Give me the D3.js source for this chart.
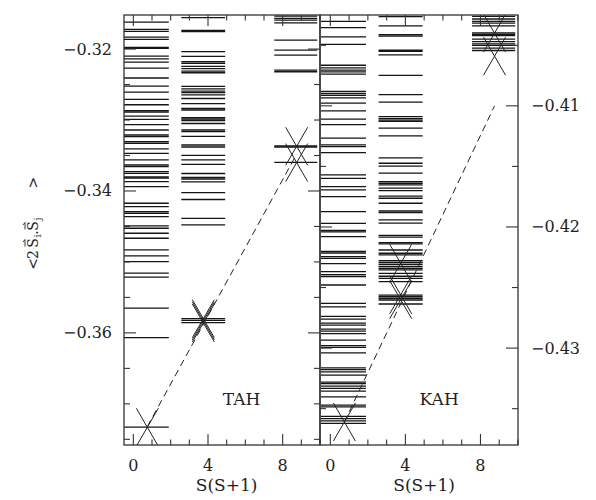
<!DOCTYPE html>
<html>
<head>
<meta charset="utf-8">
<script src="https://cdn.jsdelivr.net/npm/d3@7"></script>
<style>
  body { margin: 0; background: #fff; }
  text { font-family: "DejaVu Serif", serif; fill: #222; }
</style>
</head>
<body>
<svg id="chart" width="596" height="500"></svg>
<script>
// energy levels <2 Si.Sj>, one list per S(S+1) column
const tahCol0 = [-0.31620, -0.31723, -0.31751, -0.31831, -0.31863, -0.31976, -0.31990, -0.32099, -0.32137,
  -0.32183, -0.32268, -0.32408, -0.32521, -0.32606, -0.32708, -0.32785, -0.32869, -0.32887, -0.32944, -0.32990,
  -0.33066, -0.33141, -0.33211, -0.33235, -0.33306, -0.33328, -0.33408, -0.33469, -0.33563, -0.33634, -0.33658,
  -0.33728, -0.33751, -0.33803, -0.33817, -0.33869, -0.33939, -0.34173, -0.34221, -0.34292, -0.34314, -0.34362,
  -0.34493, -0.34525, -0.34596, -0.34666, -0.34831, -0.34915, -0.34996, -0.35159, -0.35215, -0.35652, -0.36066,
  -0.37328];
const tahCol1 = [-0.31556, -0.31737, -0.31754, -0.32035, -0.32103, -0.32176, -0.32200, -0.32244, -0.32277,
  -0.32310, -0.32334, -0.32525, -0.32561, -0.32592, -0.32615, -0.32645, -0.32697, -0.32768, -0.32838, -0.32859,
  -0.32965, -0.32986, -0.33007, -0.33049, -0.33141, -0.33165, -0.33230, -0.33352, -0.33380, -0.33497, -0.33563,
  -0.33624, -0.33754, -0.33810, -0.33831, -0.33873, -0.34024, -0.34120, -0.34385, -0.34479, -0.35800, -0.35825,
  -0.35855];
const tahCol2 = [-0.31535, -0.31568, -0.31592, -0.31630, -0.31873, -0.32014, -0.32085, -0.32296, -0.32320,
  -0.33366, -0.33380, -0.33596];

const kahCol0 = [-0.40302, -0.40355, -0.40430, -0.40492, -0.40665, -0.40686, -0.40705, -0.40719, -0.40738,
  -0.40880, -0.40898, -0.40913, -0.40934, -0.40978, -0.41041, -0.41110, -0.41155, -0.41267, -0.41322, -0.41336,
  -0.41386, -0.41570, -0.41598, -0.41667, -0.41694, -0.41750, -0.41874, -0.41970, -0.42029, -0.42041, -0.42080,
  -0.42202, -0.42215, -0.42244, -0.42259, -0.42302, -0.42369, -0.42393, -0.42409, -0.42479, -0.42631, -0.42659,
  -0.42738, -0.42760, -0.42793, -0.42810, -0.42843, -0.42860, -0.42880, -0.42934, -0.42979, -0.42994, -0.43039,
  -0.43164, -0.43178, -0.43196, -0.43223, -0.43281, -0.43293, -0.43314, -0.43333, -0.43355, -0.43402, -0.43471,
  -0.43485, -0.43564, -0.43583, -0.43601, -0.43622];
const kahCol1 = [-0.40264, -0.40339, -0.40413, -0.40424, -0.40541, -0.40550, -0.40580, -0.40748, -0.40907,
  -0.40969, -0.41089, -0.41105, -0.41118, -0.41128, -0.41184, -0.41248, -0.41430, -0.41474, -0.41498, -0.41556,
  -0.41626, -0.41639, -0.41653, -0.41680, -0.41700, -0.41746, -0.41763, -0.41804, -0.41868, -0.41882, -0.41942,
  -0.41969, -0.42070, -0.42083, -0.42130, -0.42140, -0.42190, -0.42217, -0.42231, -0.42279, -0.42295, -0.42310,
  -0.42328, -0.42341, -0.42355, -0.42383, -0.42407, -0.42424, -0.42452, -0.42562, -0.42576, -0.42589, -0.42603,
  -0.42636];
const kahCol2 = [-0.40262, -0.40283, -0.40303, -0.40317, -0.40339, -0.40397, -0.40409, -0.40421, -0.40449,
  -0.40469, -0.40488, -0.40500, -0.40523, -0.40543];

// x extent (in S(S+1) units) covered by each column of levels
const colSpans = [[-0.5, 1.9], [2.57, 4.92], [7.55, 9.85]];

// lowest states, marked with crosses at S(S+1) = 3/4, 15/4, 35/4
const tahMarkX = [0.75, 3.75, 3.75, 3.75, 8.75, 8.75];
const tahMarkY = [-0.3733, -0.3580, -0.3583, -0.3586, -0.3337, -0.3360];
const kahMarkX = [0.75, 3.75, 3.75, 3.75, 8.75, 8.75];
const kahMarkY = [-0.4361, -0.4230, -0.4256, -0.4260, -0.4040, -0.4059];

// dashed linear fits
const tahFitX = [0.75, 8.75], tahFitY = [-0.3732, -0.3348];
const kahFitX = [0.75, 8.75], kahFitY = [-0.4361, -0.4100];

const xTickValues = d3.range(0, 11);
const xTickLabels = [0, 4, 8];
const tahTickLabels = [-0.32, -0.34, -0.36];
const kahTickLabels = [-0.41, -0.42, -0.43];

const svg = d3.select('#chart');
const plotTop = 15, plotBottom = 445;

const xL = d3.scaleLinear().domain([-0.5, 10]).range([124, 320]);
const xR = d3.scaleLinear().domain([-0.55, 10]).range([320, 518]);
const yL = d3.scaleLinear().domain([-0.3758, -0.3152]).range([plotBottom, plotTop]);
const yR = d3.scaleLinear().domain([-0.438, -0.4025]).range([plotBottom, plotTop]);

const minus = v => '\u2212' + Math.abs(v).toFixed(2);

function drawPanel(id, x, y, cols, markX, markY, fitX, fitY, name) {
  const [x0, x1] = x.range();
  svg.append('clipPath').attr('id', id).append('rect')
    .attr('x', x0).attr('y', plotTop).attr('width', x1 - x0).attr('height', plotBottom - plotTop);
  const g = svg.append('g').attr('clip-path', `url(#${id})`);

  // levels
  cols.forEach((vals, i) => {
    g.append('g').selectAll('line').data(vals).enter().append('line')
      .attr('x1', x(colSpans[i][0])).attr('x2', x(colSpans[i][1]))
      .attr('y1', d => y(d)).attr('y2', d => y(d))
      .attr('stroke', '#151515').attr('stroke-width', 1.3);
  });

  // fit
  g.append('line')
    .attr('x1', x(fitX[0])).attr('y1', y(fitY[0]))
    .attr('x2', x(fitX[1])).attr('y2', y(fitY[1]))
    .attr('stroke', '#222').attr('stroke-width', 1).attr('stroke-dasharray', '7,4.5');

  // crosses
  const marks = markX.map((d, i) => ({ x: d, y: markY[i] }));
  g.append('g').selectAll('path').data(marks).enter().append('path')
    .attr('d', d => {
      const cx = x(d.x), cy = y(d.y), hw = 11, hh = 19;
      return `M${cx - hw},${cy - hh}L${cx + hw},${cy + hh}M${cx + hw},${cy - hh}L${cx - hw},${cy + hh}`;
    })
    .attr('stroke', '#222').attr('stroke-width', 1).attr('fill', 'none');

  // frame
  svg.append('rect').attr('x', x0).attr('y', plotTop).attr('width', x1 - x0).attr('height', plotBottom - plotTop)
    .attr('fill', 'none').attr('stroke', '#333').attr('stroke-width', 1.3);

  // x ticks, top and bottom
  const tg = svg.append('g').attr('stroke', '#333').attr('stroke-width', 1.1);
  xTickValues.forEach(v => {
    const len = xTickLabels.includes(v) ? 11 : 5.5;
    tg.append('line').attr('x1', x(v)).attr('x2', x(v)).attr('y1', plotBottom).attr('y2', plotBottom - len);
    tg.append('line').attr('x1', x(v)).attr('x2', x(v)).attr('y1', plotTop).attr('y2', plotTop + len);
  });
  svg.append('g').selectAll('text').data(xTickLabels).enter().append('text')
    .attr('x', d => x(d)).attr('y', 471).attr('text-anchor', 'middle')
    .style('font-size', '16px').text(d => d);
  svg.append('text').attr('x', x(5)).attr('y', 491).attr('text-anchor', 'middle')
    .style('font-size', '17px').text('S(S+1)');
  svg.append('text').attr('x', x(5.8)).attr('y', 405).attr('text-anchor', 'middle')
    .style('font-size', '17px').text(name);
  return tg;
}

function yTicks(tg, y, xpos, dir, lo, hi, majorStep) {
  d3.range(lo, hi + 1).forEach(i => {
    const v = i * 0.005;
    if (y(v) < plotTop - 0.5 || y(v) > plotBottom + 0.5) return;
    const len = (Math.abs(i) % majorStep === 0) ? 12 : 6;
    tg.append('line').attr('x1', xpos).attr('x2', xpos + dir * len).attr('y1', y(v)).attr('y2', y(v));
  });
}

const tgL = drawPanel('clipL', xL, yL, [tahCol0, tahCol1, tahCol2], tahMarkX, tahMarkY, tahFitX, tahFitY, 'TAH');
yTicks(tgL, yL, 124, 1, -75, -63, 4);
yTicks(tgL, yL, 320, -1, -75, -63, 4);
const tgR = drawPanel('clipR', xR, yR, [kahCol0, kahCol1, kahCol2], kahMarkX, kahMarkY, kahFitX, kahFitY, 'KAH');
yTicks(tgR, yR, 320, 1, -87, -81, 2);
yTicks(tgR, yR, 518, -1, -87, -81, 2);

// y tick labels
svg.append('g').selectAll('text').data(tahTickLabels).enter().append('text')
  .attr('x', 112).attr('y', d => yL(d) + 5.5).attr('text-anchor', 'end')
  .style('font-size', '16px').text(d => minus(d));
svg.append('g').selectAll('text').data(kahTickLabels).enter().append('text')
  .attr('x', 531).attr('y', d => yR(d) + 5.5).attr('text-anchor', 'start')
  .style('font-size', '16px').text(d => minus(d));

// y axis title  <2 Si.Sj >  written bottom to top
const yt = svg.append('g').attr('transform', 'translate(32,222) rotate(-90)');
const glyphs = [
  { t: '<', x: -42, y: 5.5, s: 14 },
  { t: '2', x: -32.5, y: 5.5, s: 14 },
  { t: 'S', x: -21, y: 5.5, s: 14, vec: true },
  { t: 'i', x: -14, y: 8.5, s: 10 },
  { t: '.', x: -10.5, y: 5.5, s: 14 },
  { t: 'S', x: -4, y: 5.5, s: 14, vec: true },
  { t: 'j', x: 3, y: 8.5, s: 10 },
  { t: '>', x: 39.5, y: 5.5, s: 14 }
];
glyphs.forEach(d => {
  yt.append('text').attr('x', d.x).attr('y', d.y).attr('text-anchor', 'middle')
    .style('font-size', d.s + 'px').text(d.t);
  if (d.vec) {
    yt.append('path')
      .attr('d', `M${d.x - 3.5},-7L${d.x + 3.5},-7M${d.x + 1},-9L${d.x + 3.5},-7`)
      .attr('stroke', '#222').attr('stroke-width', 0.9).attr('fill', 'none');
  }
});
</script>
</body>
</html>
